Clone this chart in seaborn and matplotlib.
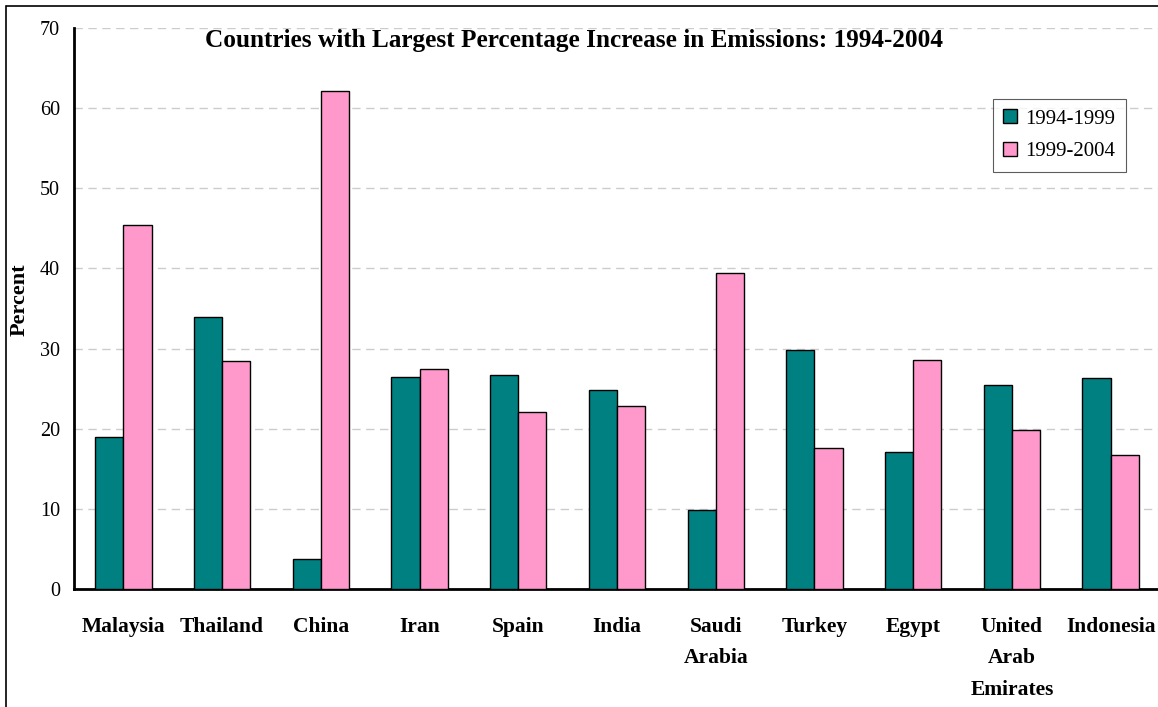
import numpy as np
import pandas as pd
import matplotlib
matplotlib.use("Agg")
import matplotlib.pyplot as plt
import seaborn as sns
from matplotlib.patches import Rectangle
from matplotlib.ticker import MultipleLocator, FixedLocator

# Data
countries = ["Malaysia", "Thailand", "China", "Iran", "Spain", "India",
             "Saudi\nArabia", "Turkey", "Egypt", "United\nArab\nEmirates", "Indonesia"]
period_1 = [19.0, 33.9, 3.7, 26.5, 26.7, 24.8, 9.9, 29.8, 17.1, 25.4, 26.3]
period_2 = [45.4, 28.4, 62.2, 27.5, 22.1, 22.8, 39.4, 17.6, 28.6, 19.9, 16.7]
series_names = ["1994-1999", "1999-2004"]
colors = ["#008080", "#FF99CC"]

df = pd.DataFrame({
    "country": countries * 2,
    "period": [series_names[0]] * len(countries) + [series_names[1]] * len(countries),
    "value": period_1 + period_2,
})

sns.set_style("white")
plt.rcParams["font.family"] = ["Liberation Serif", "DejaVu Serif"]
plt.rcParams["text.color"] = "black"
plt.rcParams["axes.labelcolor"] = "black"
plt.rcParams["xtick.color"] = "black"
plt.rcParams["ytick.color"] = "black"

fig = plt.figure(figsize=(11.58, 7.07), dpi=100)
ax = fig.add_axes([74 / 1158, 1 - 589 / 707, (1160 - 74) / 1158, (589 - 28) / 707])

sns.barplot(data=df, x="country", y="value", hue="period", palette=colors,
            width=0.57, edgecolor="black", linewidth=1, saturation=1, ax=ax, zorder=3)

ax.set_ylim(0, 70)
ax.set_xlim(-0.5, len(countries) - 0.5)
ax.yaxis.set_major_locator(MultipleLocator(10))
ax.grid(axis="y", linestyle=(0, (6, 4)), color="#cccccc", linewidth=1, zorder=0)
ax.set_axisbelow(True)

for s in ["top", "right"]:
    ax.spines[s].set_visible(False)
for s in ["left", "bottom"]:
    ax.spines[s].set_color("black")
    ax.spines[s].set_linewidth(2)

# ticks at category boundaries on x
ax.xaxis.set_minor_locator(FixedLocator(np.arange(-0.5, len(countries), 1.0)))
ax.tick_params(axis="x", which="major", length=0, pad=20)
ax.tick_params(axis="x", which="minor", length=6, width=2, direction="out")
ax.tick_params(axis="y", which="major", length=7, width=2, direction="out",
               labelsize=14.5, pad=3)
for lbl in ax.get_xticklabels():
    lbl.set_fontweight("bold")
    lbl.set_fontsize(15.5)
    lbl.set_verticalalignment("top")
    lbl.set_linespacing(1.78)

ax.set_xlabel("")
ax.set_ylabel("Percent", fontsize=16, fontweight="bold")
ax.yaxis.set_label_coords((30 - 74) / 1086, (589 - 300) / 561)

leg = ax.legend(loc="upper left", bbox_to_anchor=((993 - 74) / 1086, (589 - 99) / 561),
                frameon=True, fancybox=False, shadow=False, fontsize=15,
                handlelength=0.65, handleheight=0.65, handletextpad=0.4,
                borderpad=0.5, labelspacing=0.65, borderaxespad=0)
leg.get_frame().set_edgecolor("#333333")
leg.get_frame().set_linewidth(0.8)

fig.text(574 / 1158, 1 - 40 / 707,
         "Countries with Largest Percentage Increase in Emissions: 1994-2004",
         ha="center", va="center", fontsize=18.2, fontweight="bold")

# outer border
fig.patches.append(Rectangle((6 / 1158, -0.05), 1.2, 1 - 6 / 707 + 0.05,
                             transform=fig.transFigure, fill=False,
                             edgecolor="black", linewidth=1.2))

fig.savefig("out.png", dpi=100)
